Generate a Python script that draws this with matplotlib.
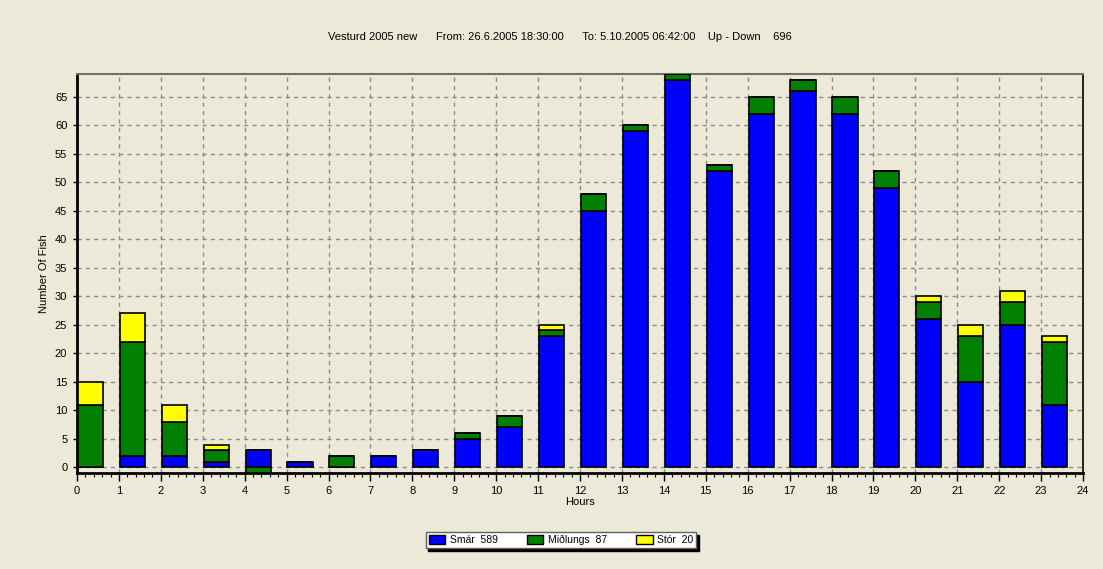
import numpy as np
import matplotlib.pyplot as plt
from matplotlib.ticker import MultipleLocator

# --- data -------------------------------------------------------------------
hours = list(range(24))
smar = [0, 2, 2, 1, 3, 1, 0, 2, 3, 5, 7, 23, 45, 59, 68, 52, 62, 66, 62, 49, 26, 15, 25, 11]
midlungs = [11, 20, 6, 2, -1, 0, 2, 0, 0, 1, 2, 1, 3, 1, 1, 1, 3, 2, 3, 3, 3, 8, 4, 11]
stor = [4, 5, 3, 1, 0, 0, 0, 0, 0, 0, 0, 1, 0, 0, 0, 0, 0, 0, 0, 0, 1, 2, 2, 1]
title = 'Vesturd 2005 new      From: 26.6.2005 18:30:00      To: 5.10.2005 06:42:00    Up - Down    696'

bg = '#ECE9D8'
plt.rcParams['font.family'] = ['Liberation Sans', 'DejaVu Sans']

fig = plt.figure(figsize=(11.03, 5.69), dpi=100, facecolor=bg)
ax = fig.add_axes([0.0698, 0.1687, 0.9121, 0.7013])
ax.set_facecolor(bg)

x = np.array(hours) + 0.02
w = 0.6
s = np.array(smar)
m = np.array(midlungs)
t = np.array(stor)

# positive stacking, negative values go below zero
m_bottom = np.where(m >= 0, s, 0)
t_bottom = s + np.clip(m, 0, None)

ax.bar(x, s, w, align='edge', color='#0000FF', edgecolor='black', linewidth=1.2, zorder=3, label='Smár  589')
ax.bar(x, m, w, bottom=m_bottom, align='edge', color='#008000', edgecolor='black', linewidth=1.2, zorder=3, label='Miðlungs  87')
ax.bar(x, t, w, bottom=t_bottom, align='edge', color='#FFFF00', edgecolor='black', linewidth=1.2, zorder=3, label='Stór  20')

ax.set_xlim(0, 24)
ax.set_ylim(-1, 69)
ax.xaxis.set_major_locator(MultipleLocator(1))
ax.xaxis.set_minor_locator(MultipleLocator(0.2))
ax.yaxis.set_major_locator(MultipleLocator(5))
ax.grid(True, which='major', color='#8c8c8c', linestyle=(0, (3, 3)), linewidth=1, zorder=1)

ax.spines['top'].set_color('#707070')
ax.spines['top'].set_linewidth(1.5)
ax.spines['right'].set_color('black')
ax.spines['right'].set_linewidth(1.2)
ax.spines['left'].set_linewidth(2)
ax.spines['bottom'].set_linewidth(2)

ax.tick_params(axis='both', labelsize=8, colors='black')
ax.tick_params(axis='x', which='major', length=6, width=1, direction='out', pad=3)
ax.tick_params(axis='x', which='minor', length=3, width=0.8, direction='out')
ax.tick_params(axis='y', length=3, width=1, pad=4)

ax.set_xlabel('Hours', fontsize=8, labelpad=1)
ax.set_ylabel('Number Of Fish', fontsize=8, labelpad=4)

fig.text(0.508, 0.935, title, ha='center', va='center', fontsize=8)

leg = ax.legend(loc='center', bbox_to_anchor=(0.481, -0.168), ncol=3, fontsize=7.5,
                frameon=True, fancybox=False, shadow={'color': 'black', 'alpha': 1},
                edgecolor='#606060', handlelength=1.6, handleheight=1.0,
                columnspacing=2.8, borderpad=0.3, handletextpad=0.4, borderaxespad=0)
leg.get_frame().set_linewidth(1)
for h in leg.legend_handles:
    h.set_linewidth(1)

fig.savefig('out.png', dpi=100, facecolor=bg)
